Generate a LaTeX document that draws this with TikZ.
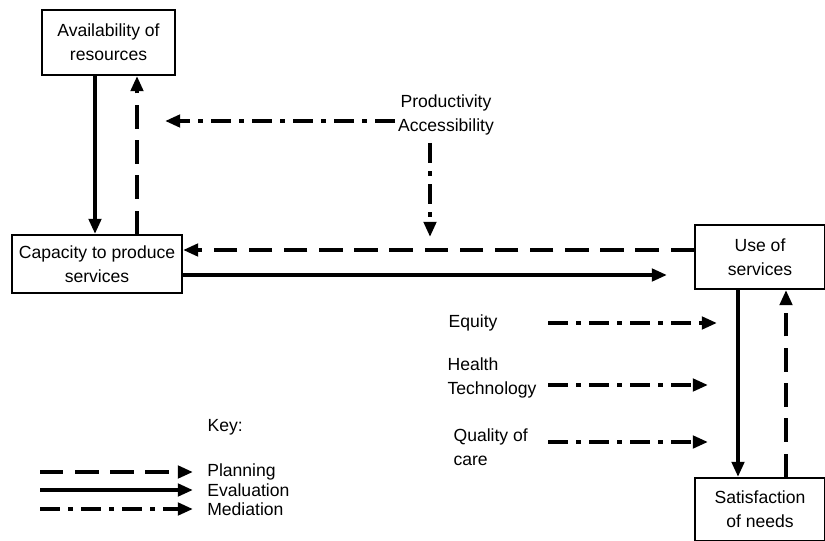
\documentclass[tikz,border=0pt]{standalone}
\usepackage{fontspec}
\setmainfont{Liberation Sans}
\usetikzlibrary{arrows.meta, positioning, calc}

\begin{document}
\begin{tikzpicture}[
    x=0.03cm, y=-0.03cm,
    block/.style={draw, line width=1.7pt, align=center, inner sep=2pt, font=\fontsize{15}{20.5}\selectfont},
    tag/.style={inner sep=2pt, font=\fontsize{15}{20.5}\selectfont},
    keytag/.style={tag, anchor=west, inner xsep=12pt},
    evaluation/.style={line width=3.5pt, -{Triangle[length=13pt, width=10.5pt]}},
    planning/.style={evaluation, dash pattern=on 20pt off 10pt},
    mediation/.style={evaluation, dash pattern=on 17pt off 7pt on 4pt off 7pt}
]
\useasboundingbox (0,0) rectangle (825,541);

% Boxes
\node[block, minimum width=3.99cm, minimum height=1.95cm] (avail) at (108.5,42.5) {Availability of\\resources};
\node[block, minimum width=5.1cm, minimum height=1.74cm] (cap) at (97,264) {Capacity to produce\\services};
\node[block, minimum width=3.9cm, minimum height=1.92cm] (use) at (760,257) {Use of\\services};
\node[block, minimum width=3.9cm, minimum height=1.89cm] (sat) at (760,509.5) {Satisfaction\\of needs};

% Helper coordinates
\coordinate (xl) at (95,0);
\coordinate (xr) at (137,0);
\coordinate (yp) at (0,250);
\coordinate (ye) at (0,275);
\coordinate (eend) at (667,275);
\coordinate (xs) at (738,0);
\coordinate (xd) at (786,0);

% Resources <-> capacity
\draw[evaluation] (avail.south -| xl) -- (cap.north -| xl);
\draw[planning] (cap.north -| xr) -- (avail.south -| xr);

% Productivity / Accessibility
\node[tag, align=center] (prod) at (446,114.5) {Productivity\\Accessibility};
\coordinate (pa) at (395,121);
\coordinate (pb) at (165,121);
\coordinate (pc) at (430,143);
\coordinate (pd) at (430,237);
\draw[mediation] (pa) -- (pb);
\draw[mediation] (pc) -- (pd);

% Capacity <-> use
\draw[planning] (use.west |- yp) -- (cap.east |- yp);
\draw[evaluation] (cap.east |- ye) -- (eend);

% Use <-> satisfaction
\draw[evaluation] (use.south -| xs) -- (sat.north -| xs);
\draw[planning] (sat.north -| xd) -- (use.south -| xd);

% Mediating factors
\node[tag, anchor=west] (equity) at (446,323) {Equity};
\node[tag, anchor=west, align=left] (health) at (445,378) {Health\\Technology};
\node[tag, anchor=west, align=left] (quality) at (451,447) {Quality of\\care};
\coordinate (q1) at (548,323);
\coordinate (q2) at (717,323);
\coordinate (h1) at (548,385);
\coordinate (h2) at (708,385);
\coordinate (c1) at (548,442);
\coordinate (c2) at (708,442);
\draw[mediation] (q1) -- (q2);
\draw[mediation] (h1) -- (h2);
\draw[mediation] (c1) -- (c2);

% Key
\node[tag, anchor=west] (key) at (205,427) {Key:};
\node[keytag] (plan) at (193,472) {Planning};
\node[keytag] (eval) at (193,490) {Evaluation};
\node[keytag] (medi) at (193,509) {Mediation};
\coordinate (k1) at (40,472);
\coordinate (k2) at (40,490);
\coordinate (k3) at (40,509);
\draw[planning] (k1) -- (plan.west);
\draw[evaluation] (k2) -- (eval.west);
\draw[mediation] (k3) -- (medi.west);

\end{tikzpicture}
\end{document}
